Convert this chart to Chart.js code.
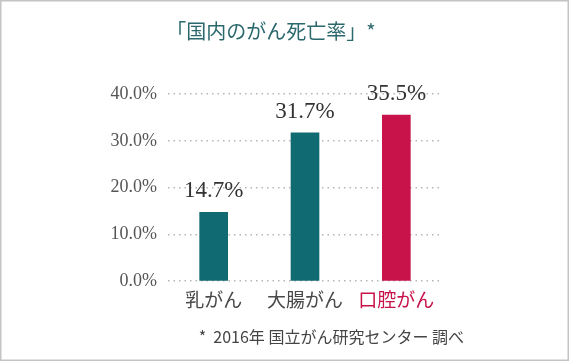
<!DOCTYPE html>
<html><head><meta charset="utf-8">
<script src="https://cdn.jsdelivr.net/npm/chart.js@4/dist/chart.umd.min.js"></script>
<style>html,body{margin:0;padding:0;background:#fff}#wrap{width:569px;height:361px}</style>
</head><body><div id="wrap"><canvas id="c" width="569" height="361"></canvas></div>
<script>
const categories = ["乳がん", "大腸がん", "口腔がん"];
const values = [14.7, 31.7, 35.5];
const valueLabels = ["14.7%", "31.7%", "35.5%"];
const barColors = ["#0f6a71", "#0f6a71", "#c7134a"];
const labelColors = ["#4a4a4a", "#4a4a4a", "#c7134a"];
const yTicks = [0, 10, 20, 30, 40];
const titleText = "「国内のがん死亡率」*";
const footnoteText = "*  2016年 国立がん研究センター 調べ";

const framePlugin = {
  id: 'frame',
  beforeDraw(chart) {
    const ctx = chart.ctx;
    ctx.save();
    ctx.fillStyle = '#fff';
    ctx.fillRect(0, 0, chart.width, chart.height);
    ctx.strokeStyle = '#c4c4c4';
    ctx.lineWidth = 1.5;
    ctx.strokeRect(0.75, 0.75, chart.width - 1.5, chart.height - 1.5);
    ctx.restore();
  },
  afterDatasetsDraw(chart) {
    const ctx = chart.ctx;
    const meta = chart.getDatasetMeta(0);
    ctx.save();
    ctx.font = '23px "Liberation Serif", serif';
    ctx.fillStyle = '#333';
    ctx.textAlign = 'center';
    ctx.textBaseline = 'alphabetic';
    meta.data.forEach((bar, i) => {
      ctx.fillText(valueLabels[i], bar.x, bar.y - 15);
    });
    ctx.font = '16px "Noto Sans CJK JP", sans-serif';
    ctx.fillStyle = '#444';
    ctx.textAlign = 'right';
    ctx.textBaseline = 'middle';
    ctx.fillText(footnoteText, chart.chartArea.right + 22, 337);
    ctx.restore();
  }
};

new Chart(document.getElementById('c'), {
  type: 'bar',
  data: {
    labels: categories,
    datasets: [{ data: values, backgroundColor: barColors, barThickness: 28 }]
  },
  options: {
    responsive: false,
    animation: false,
    layout: { padding: { left: 100, right: 127, top: 0, bottom: 43 } },
    plugins: {
      legend: { display: false },
      tooltip: { enabled: false },
      title: {
        display: true,
        text: titleText,
        color: '#2b686c',
        font: { family: '"Noto Sans CJK JP", sans-serif', size: 20, weight: 'normal' },
        padding: { top: 19, bottom: 51 }
      }
    },
    scales: {
      y: {
        min: 0, max: 40,
        afterBuildTicks(scale) { scale.ticks = yTicks.map(v => ({ value: v })); },
        afterFit(scale) { scale.width = 68; },
        border: { display: false, dash: [1.5, 4] },
        grid: { color: '#b5b5b5', lineWidth: 1.5, drawTicks: false, tickLength: 0 },
        ticks: {
          padding: 11,
          color: '#555',
          font: { family: '"Liberation Serif", serif', size: 18 },
          callback: v => v.toFixed(1) + '%'
        }
      },
      x: {
        border: { display: false },
        grid: { display: false, drawTicks: false },
        ticks: {
          padding: 7,
          color: labelColors,
          font: { family: '"Noto Sans CJK JP", sans-serif', size: 19 }
        }
      }
    }
  },
  plugins: [framePlugin]
});
</script>
</body></html>
